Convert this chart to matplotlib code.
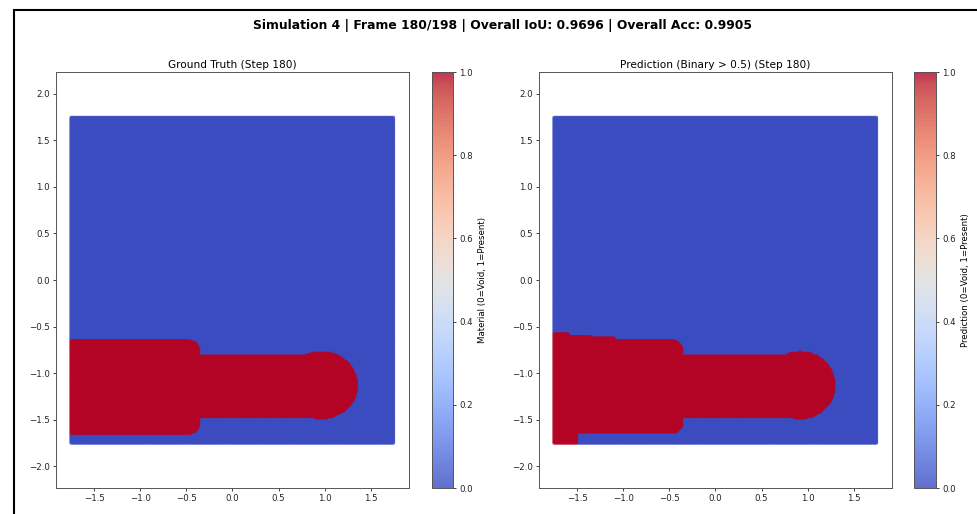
import numpy as np
import matplotlib
matplotlib.use("Agg")
import matplotlib.pyplot as plt
from matplotlib.patches import Rectangle

# frame info
sim_id = 4
frame = 180
n_frames = 198
overall_iou = 0.9696
overall_acc = 0.9905

# simulation domain (square grid of points)
domain = [-1.75, 1.75]
grid_step = 0.015

# ground truth material shape
gt_wide_x = [-1.80, -0.36]      # wide left block
gt_wide_y = [-1.65, -0.65]
gt_corner_r = 0.12
gt_neck_x = [-0.40, 0.95]       # narrow neck
gt_neck_y = [-1.48, -0.81]
gt_cap_center = [0.96, -1.13]   # rounded cap at the tip
gt_cap_radii = [0.39, 0.355]

# prediction shape (binary > 0.5)
pred_top_breaks = [-1.80, -1.60, -1.35, -1.10, -0.36]   # stepped top edge of the wide block
pred_top_y = [-0.57, -0.60, -0.62, -0.645]
pred_wide_x = [-1.80, -0.36]
pred_wide_bottom = -1.645
pred_corner_r = 0.12
pred_foot_x = [-1.80, -1.50]    # red foot reaching the bottom edge
pred_foot_y = [-1.80, -1.64]
pred_neck_x = [-0.40, 0.90]
pred_neck_y = [-1.47, -0.81]
pred_cap_center = [0.92, -1.13]
pred_cap_radii = [0.37, 0.355]

cbar_ticks = [0.0, 0.2, 0.4, 0.6, 0.8, 1.0]
axis_ticks = [-2.0, -1.5, -1.0, -0.5, 0.0, 0.5, 1.0, 1.5, 2.0]


def rounded_box(x, y, x0, x1, y0, y1, r):
    # box with rounded corners on the right hand side
    inside = (x >= x0) & (x <= x1) & (y >= y0) & (y <= y1)
    cx = x1 - r
    top = (x > cx) & (y > y1 - r) & ((x - cx) ** 2 + (y - (y1 - r)) ** 2 > r ** 2)
    bot = (x > cx) & (y < y0 + r) & ((x - cx) ** 2 + (y - (y0 + r)) ** 2 > r ** 2)
    return inside & ~top & ~bot


def ellipse(x, y, c, radii):
    return ((x - c[0]) / radii[0]) ** 2 + ((y - c[1]) / radii[1]) ** 2 <= 1.0


g = np.arange(domain[0], domain[1] + 1e-9, grid_step)
X, Y = np.meshgrid(g, g)
X = X.ravel()
Y = Y.ravel()

gt = rounded_box(X, Y, gt_wide_x[0], gt_wide_x[1], gt_wide_y[0], gt_wide_y[1], gt_corner_r)
gt |= (X >= gt_neck_x[0]) & (X <= gt_neck_x[1]) & (Y >= gt_neck_y[0]) & (Y <= gt_neck_y[1])
gt |= ellipse(X, Y, gt_cap_center, gt_cap_radii)

pred = np.zeros_like(gt)
for i in range(len(pred_top_y)):
    seg = (X >= pred_top_breaks[i]) & (X < pred_top_breaks[i + 1])
    pred |= seg & rounded_box(X, Y, pred_wide_x[0], pred_wide_x[1], pred_wide_bottom, pred_top_y[i], pred_corner_r)
pred |= (X >= pred_foot_x[0]) & (X <= pred_foot_x[1]) & (Y >= pred_foot_y[0]) & (Y <= pred_foot_y[1])
pred |= (X >= pred_neck_x[0]) & (X <= pred_neck_x[1]) & (Y >= pred_neck_y[0]) & (Y <= pred_neck_y[1])
pred |= ellipse(X, Y, pred_cap_center, pred_cap_radii)

W, H = 978, 514
fig = plt.figure(figsize=(W / 100, H / 100), dpi=100)


def px_axes(x0, x1, y0, y1):
    return fig.add_axes([x0 / W, 1 - y1 / H, (x1 - x0) / W, (y1 - y0) / H])


panels = [
    (gt, "Ground Truth (Step %d)" % frame, "Material (0=Void, 1=Present)", 56, 409, 432, 453),
    (pred, "Prediction (Binary > 0.5) (Step %d)" % frame, "Prediction (0=Void, 1=Present)", 539, 892, 914, 936),
]

for vals, title, clabel, ax0, ax1, cb0, cb1 in panels:
    ax = px_axes(ax0, ax1, 72, 488)
    # draw void first, material on top, so overlapping dots keep the red edge
    order = np.argsort(vals, kind="stable")
    sc = ax.scatter(X[order], Y[order], c=vals[order].astype(float), cmap="coolwarm", vmin=0, vmax=1,
                    s=7, linewidths=0, alpha=0.8, rasterized=True)
    ax.set_xlim(-1.915, 1.915)
    ax.set_ylim(-2.235, 2.235)
    ax.set_xticks(axis_ticks[1:-1])
    ax.set_yticks(axis_ticks)
    ax.tick_params(labelsize=6.2, length=2.5, width=0.6, pad=2, colors="#222222")
    for sp in ax.spines.values():
        sp.set_linewidth(0.7)
        sp.set_color("#555555")
    ax.set_title(title, fontsize=7.6, pad=3)

    cax = px_axes(cb0, cb1, 72, 488)
    cb = fig.colorbar(sc, cax=cax, ticks=cbar_ticks)
    cb.outline.set_linewidth(0.7)
    cb.outline.set_edgecolor("#555555")
    cb.ax.tick_params(labelsize=6.2, length=2.5, width=0.6, pad=2, colors="#222222")
    cb.set_label(clabel, fontsize=6.2, labelpad=4)

fig.suptitle("Simulation %d | Frame %d/%d | Overall IoU: %.4f | Overall Acc: %.4f"
             % (sim_id, frame, n_frames, overall_iou, overall_acc),
             fontsize=8.9, fontweight="bold", x=503 / W, y=1 - 26 / H, va="center")

# dark frame around the figure (only the top and left edges are in view)
fig.patches.append(Rectangle((14 / W, -0.2), 2.0, 1.2 - 10 / H, transform=fig.transFigure,
                             fill=False, edgecolor="black", linewidth=1.5))

fig.savefig("out.png", dpi=100)
